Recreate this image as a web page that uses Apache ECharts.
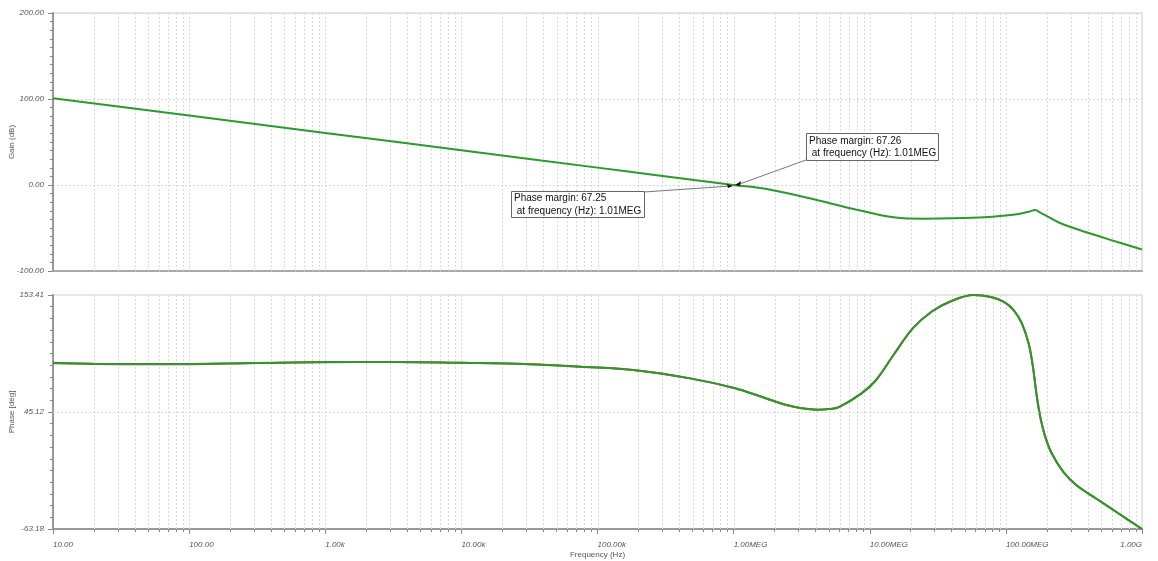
<!DOCTYPE html>
<html><head><meta charset="utf-8">
<script src="https://cdn.jsdelivr.net/npm/echarts@6/dist/echarts.min.js"></script>
<style>html,body{margin:0;padding:0;background:#fff}#c{width:1158px;height:561px}</style>
</head><body><div id="c"></div>
<script>
// ---- data (frequency in Hz) ----
const decadeLabels = ['10.00','100.00','1.00k','10.00k','100.00k','1.00MEG','10.00MEG','100.00MEG','1.00G'];
const gainTicks = [-100, 0, 100, 200];
const phaseTicks = [-63.18, 45.12, 153.41];

const gainFreqHz = [10, 100, 1e3, 1e4, 1e5, 3e5, 1e6, 1.86e6, 4.3e6, 7.6e6, 1.33e7, 1.77e7, 2.5e7, 4.1e7, 7e7, 9.6e7, 1.27e8, 1.48e8, 1.64e8, 1.8e8, 2.0e8, 2.5e8, 3.9e8, 6.2e8, 1e9];
const gainDb     = [101.0, 80.8, 60.6, 40.4, 20.2, 10.6, 0.1, -5.4, -18.2, -27.9, -36.4, -38.8, -39.2, -38.8, -37.6, -35.7, -33.3, -31.0, -29.1, -32.4, -36.1, -44.2, -55.0, -65.0, -75.0];

const phaseFreqHz = [10, 20, 50, 100, 316, 1e3, 3.16e3, 1e4, 3.16e4, 7.5e4, 1.9e5, 4.9e5, 1.01e6, 1.7e6, 2.48e6, 3.16e6, 4.08e6, 5.0e6, 5.94e6, 8.65e6, 1.11e7, 1.52e7, 2.07e7, 2.84e7, 3.87e7, 5.8e7, 7.76e7, 9.6e7, 1.14e8, 1.31e8, 1.47e8, 1.58e8, 1.69e8, 1.79e8, 1.95e8, 2.18e8, 2.65e8, 3.32e8, 4.66e8, 6.53e8, 1e9];
const phaseDeg    = [90.3, 89.8, 89.5, 89.6, 90.4, 91.3, 91.4, 90.6, 89.4, 87.0, 83.8, 76.0, 67.3, 58.1, 51.3, 48.6, 47.3, 47.8, 49.7, 62.1, 74.5, 99.3, 122.5, 137.9, 147.2, 153.4, 151.5, 147.2, 139.5, 127.1, 108.5, 86.9, 59.0, 40.5, 21.9, 6.4, -10.6, -23.0, -35.4, -47.7, -63.18];
const phaseRefDeg = [90.6, 89.6, 89.2, 89.3, 90.5, 91.2, 91.3, 90.6, 89.4, 87.0, 83.8, 76.0, 67.3, 58.1, 51.3, 48.6, 47.3, 47.8, 49.7, 62.1, 74.5, 99.3, 122.5, 137.9, 147.2, 153.4, 151.5, 147.2, 139.5, 127.1, 108.5, 86.9, 59.0, 40.5, 21.9, 6.4, -10.6, -23.0, -35.4, -47.7, -63.18];

const pmFreqHz = 1.01e6;
const pmTexts = ['Phase margin: 67.26\n at frequency (Hz): 1.01MEG', 'Phase margin: 67.25\n at frequency (Hz): 1.01MEG'];

// ---- decoration positions (log-decade grid) ----
const gridLogs = [];
for (let d = 1; d <= 8; d++) for (let k = 1; k <= 9; k++) { if (d === 1 && k === 1) continue; gridLogs.push(d + Math.log10(k)); }
const minorLogs = gridLogs.filter(v => Math.abs(v - Math.round(v)) > 1e-9);
const phaseMin = phaseTicks[0], phaseMax = phaseTicks[2];
const phaseMinor = [];
for (let i = 0; i <= 20; i++) phaseMinor.push(phaseMin + i * (phaseMax - phaseMin) / 20);

const toPts = (f, v) => f.map((x, i) => [Math.log10(x), v[i]]);

const labelFont = { fontSize: 8, fontStyle: 'italic', color: '#555', fontFamily: 'Liberation Sans' };
const nameFont = { fontSize: 8, color: '#555', fontFamily: 'Liberation Sans' };
const GRID_COLOR = '#d9d9d9';

function vGrid(yLo, yHi) {
  return function (params, api) {
    const x = api.value(0);
    const p1 = api.coord([x, yHi]), p2 = api.coord([x, yLo]);
    const px = Math.round(p1[0]) + 0.5;
    return { type: 'line', silent: true, shape: { x1: px, y1: p1[1], x2: px, y2: p2[1] },
      style: { stroke: GRID_COLOR, lineWidth: 1, lineDash: [2, 2] } };
  };
}

const chart = echarts.init(document.getElementById('c'), null, { renderer: 'canvas' });
const gridBase = { left: 53, right: 16, show: true, borderColor: '#e6e6e6', borderWidth: 2, backgroundColor: '#fff', containLabel: false, outerBoundsMode: 'none' };
chart.setOption({
  animation: false,
  backgroundColor: '#fff',
  grid: [
    Object.assign({ top: 13, height: 258 }, gridBase),
    Object.assign({ top: 295, height: 234 }, gridBase)
  ],
  xAxis: [
    { gridIndex: 0, type: 'value', min: 1, max: 9, interval: 1, position: 'bottom',
      axisLine: { onZero: false, lineStyle: { color: '#a8a8a8', width: 2 } }, axisTick: { show: false }, axisLabel: { show: false }, splitLine: { show: false } },
    { gridIndex: 1, type: 'value', min: 1, max: 9, interval: 1, position: 'bottom',
      name: 'Frequency (Hz)', nameLocation: 'middle', nameGap: 22, nameMoveOverlap: false, nameTextStyle: nameFont,
      axisLine: { onZero: false, lineStyle: { color: '#999', width: 2 } },
      axisTick: { length: 5, lineStyle: { color: '#888' } },
      axisLabel: Object.assign({ margin: 12, align: 'left', alignMaxLabel: 'right', formatter: v => decadeLabels[Math.round(v) - 1] }, labelFont),
      splitLine: { show: false } },
    { gridIndex: 1, type: 'value', min: 1, max: 9, position: 'bottom',
      axisLine: { show: false, onZero: false }, axisTick: { show: true, customValues: minorLogs, length: 3, lineStyle: { color: '#888' } },
      axisLabel: { show: false }, splitLine: { show: false } }
  ],
  yAxis: [
    { gridIndex: 0, type: 'value', min: gainTicks[0], max: gainTicks[3], interval: 100, position: 'left',
      name: 'Gain (dB)', nameLocation: 'middle', nameGap: 37, nameMoveOverlap: false, nameTextStyle: nameFont,
      axisLine: { show: true, onZero: false, lineStyle: { color: '#999', width: 2 } },
      axisTick: { length: 5, lineStyle: { color: '#888' } },
      minorTick: { show: true, splitNumber: 10, length: 3, lineStyle: { color: '#888' } },
      axisLabel: Object.assign({ margin: 9, formatter: v => v.toFixed(2) }, labelFont),
      splitLine: { show: true, lineStyle: { color: GRID_COLOR, type: [2, 2] } } },
    { gridIndex: 1, type: 'value', min: phaseMin, max: phaseMax, position: 'left',
      name: 'Phase [deg]', nameLocation: 'middle', nameGap: 37, nameMoveOverlap: false, nameTextStyle: nameFont,
      axisLine: { show: true, onZero: false, lineStyle: { color: '#999', width: 2 } },
      axisTick: { length: 5, customValues: phaseTicks, lineStyle: { color: '#888' } },
      axisLabel: Object.assign({ margin: 9, customValues: phaseTicks, formatter: v => v.toFixed(2) }, labelFont),
      splitLine: { show: false } },
    { gridIndex: 1, type: 'value', min: phaseMin, max: phaseMax, position: 'left',
      axisLine: { show: false, onZero: false }, axisTick: { show: true, customValues: phaseMinor, length: 3, lineStyle: { color: '#888' } },
      axisLabel: { show: false }, splitLine: { show: false } }
  ],
  series: [
    { type: 'custom', xAxisIndex: 0, yAxisIndex: 0, silent: true, z: 1, data: gridLogs.map(v => [v]),
      renderItem: vGrid(gainTicks[0], gainTicks[3]) },
    { type: 'custom', xAxisIndex: 1, yAxisIndex: 1, silent: true, z: 1, data: gridLogs.map(v => [v]),
      renderItem: vGrid(phaseMin, phaseMax) },
    { name: 'Gain', type: 'line', xAxisIndex: 0, yAxisIndex: 0, data: toPts(gainFreqHz, gainDb),
      showSymbol: false, smooth: 0.35, z: 3, lineStyle: { color: '#2a9a2a', width: 2 } },
    { name: 'Phase ref', type: 'line', xAxisIndex: 1, yAxisIndex: 1, data: toPts(phaseFreqHz, phaseRefDeg),
      showSymbol: false, smooth: 0.35, z: 2, lineStyle: { color: '#a8402e', width: 2 } },
    { name: 'Phase', type: 'line', xAxisIndex: 1, yAxisIndex: 1, data: toPts(phaseFreqHz, phaseDeg),
      showSymbol: false, smooth: 0.35, z: 3, lineStyle: { color: '#2a9a2a', width: 2 },
      markLine: { silent: true, symbol: 'none', label: { show: false }, animation: false,
        lineStyle: { color: GRID_COLOR, type: [2, 2], width: 1 }, data: [{ yAxis: phaseTicks[1] }] } }
  ]
});

// ---- phase margin annotations ----
const a = chart.convertToPixel({ gridIndex: 0 }, [Math.log10(pmFreqHz), 0]);
const ax = Math.round(a[0]), ay = Math.round(a[1]);
const txtStyle = { fill: '#111', font: '10px "Liberation Sans", Arial, sans-serif', lineHeight: 12.5 };
const b1 = { x: ax + 72, y: ay - 52, w: 132, h: 27 };
const b2 = { x: ax - 223, y: ay + 6, w: 133, h: 26 };
chart.setOption({
  graphic: [
    { type: 'line', z: 10, shape: { x1: b1.x, y1: b1.y + b1.h, x2: ax + 3, y2: ay }, style: { stroke: '#777', lineWidth: 1 } },
    { type: 'line', z: 10, shape: { x1: b2.x + b2.w, y1: b2.y + 1, x2: ax - 3, y2: ay + 1 }, style: { stroke: '#777', lineWidth: 1 } },
    { type: 'polygon', z: 11, shape: { points: [[ax + 1, ay], [ax + 7, ay - 4], [ax + 6, ay + 1]] }, style: { fill: '#111' } },
    { type: 'polygon', z: 11, shape: { points: [[ax - 1, ay + 1], [ax - 7, ay - 1], [ax - 6, ay + 3]] }, style: { fill: '#111' } },
    { type: 'rect', z: 12, shape: { x: b1.x + 0.5, y: b1.y + 0.5, width: b1.w, height: b1.h }, style: { fill: '#fff', stroke: '#666', lineWidth: 1 } },
    { type: 'text', z: 13, x: b1.x + 3, y: b1.y + 1.5, style: Object.assign({ text: pmTexts[0] }, txtStyle) },
    { type: 'rect', z: 12, shape: { x: b2.x + 0.5, y: b2.y + 0.5, width: b2.w, height: b2.h }, style: { fill: '#fff', stroke: '#666', lineWidth: 1 } },
    { type: 'text', z: 13, x: b2.x + 3, y: b2.y + 1, style: Object.assign({ text: pmTexts[1] }, txtStyle) }
  ]
});
</script>
</body></html>
